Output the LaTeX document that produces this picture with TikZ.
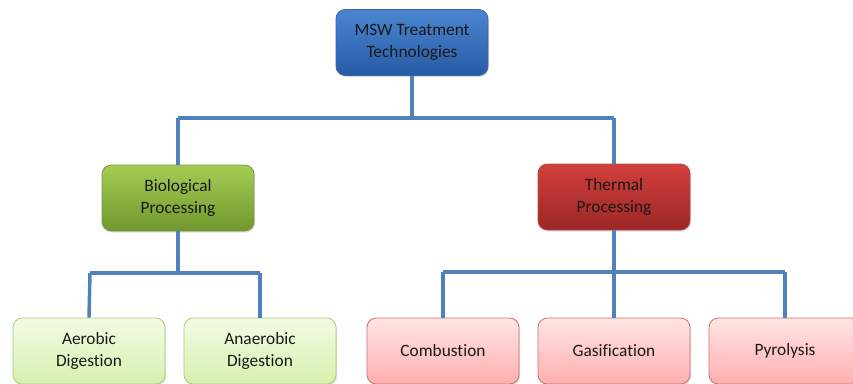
\documentclass[tikz,border=0pt]{standalone}
\usepackage{fontspec}
\setmainfont{Carlito}[RawFeature={-liga;-clig}]
\usetikzlibrary{shadows}
\definecolor{link}{HTML}{4F81BD}
\definecolor{bT}{RGB}{74,134,208}
\definecolor{bB}{RGB}{40,90,165}
\definecolor{bD}{RGB}{60,100,160}
\definecolor{gT}{RGB}{165,204,82}
\definecolor{gB}{RGB}{112,152,46}
\definecolor{gD}{RGB}{120,150,70}
\definecolor{rT}{RGB}{210,64,62}
\definecolor{rB}{RGB}{155,38,36}
\definecolor{rD}{RGB}{170,80,80}
\definecolor{lgT}{RGB}{243,251,228}
\definecolor{lgB}{RGB}{215,240,175}
\definecolor{lgD}{RGB}{170,205,120}
\definecolor{lrT}{RGB}{255,228,228}
\definecolor{lrB}{RGB}{255,175,175}
\definecolor{lrD}{RGB}{210,110,110}
\tikzset{
  box/.style={rounded corners=7pt, minimum width=114pt, minimum height=49.5pt, align=center, font=\fontsize{13pt}{16.5pt}\selectfont, text=black!90, line width=0.6pt,
    drop shadow={shadow xshift=0.8pt, shadow yshift=-1.2pt, opacity=0.25}},
  bluebox/.style={box, draw=bD, top color=bT, bottom color=bB},
  greenbox/.style={box, draw=gD, top color=gT, bottom color=gB},
  redbox/.style={box, draw=rD, top color=rT, bottom color=rB},
  lgreen/.style={box, draw=lgD, top color=lgT, bottom color=lgB},
  lred/.style={box, draw=lrD, top color=lrT, bottom color=lrB},
  conn/.style={draw=link, line width=2.6pt}
}
\begin{document}
\begin{tikzpicture}[x=0.75pt, y=-0.75pt]
\useasboundingbox (0,0) rectangle (853,383);
\clip (0,0) rectangle (853,383);
\fill[white] (0,0) rectangle (853,383);
\coordinate (h1) at (412,118);
\coordinate (h1l) at (178,118);
\coordinate (h1r) at (614,118);
\coordinate (h2) at (178,273);
\coordinate (h2l) at (90,273);
\coordinate (h2r) at (260,273);
\coordinate (h3) at (614,272);
\coordinate (h3l) at (443,272);
\coordinate (h3r) at (785,272);
\node[bluebox] (top) at (412,42.5) {MSW Treatment\\Technologies};
\node[greenbox] (bio) at (178,198) {Biological\\Processing};
\node[redbox] (th) at (614,197) {Thermal\\Processing};
\node[lgreen] (aer) at (89,351) {Aerobic\\Digestion};
\node[lgreen] (ana) at (260,351) {Anaerobic\\Digestion};
\node[lred] (com) at (443,351) {Combustion};
\node[lred] (gas) at (614,351) {Gasification};
\node[lred] (pyr) at (785,351) {Pyrolysis};
\draw[conn] (top.south) -- (h1);
\draw[conn] (h1l) -- (h1r);
\draw[conn] (h1l) -- (bio.north);
\draw[conn] (h1r) -- (th.north);
\draw[conn] (bio.south) -- (h2);
\draw[conn] (h2l) -- (h2r);
\draw[conn] (h2l) -- (aer.north);
\draw[conn] (h2r) -- (ana.north);
\draw[conn] (th.south) -- (h3);
\draw[conn] (h3l) -- (h3r);
\draw[conn] (h3l) -- (com.north);
\draw[conn] (h3) -- (gas.north);
\draw[conn] (h3r) -- (pyr.north);
\end{tikzpicture}
\end{document}
